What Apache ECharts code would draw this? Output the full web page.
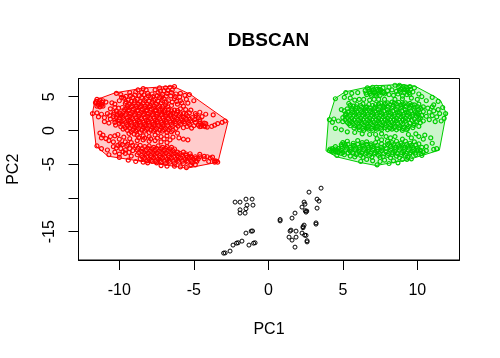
<!DOCTYPE html>
<html><head><meta charset="utf-8">
<style>html,body{margin:0;padding:0;background:#fff}#c{width:500px;height:358px}</style>
<script src="https://cdn.jsdelivr.net/npm/echarts@6/dist/echarts.min.js"></script>
</head><body><div id="c"></div>
<script>
var title = "DBSCAN";
var xName = "PC1";
var yName = "PC2";
var xTicks = [-10,-5,0,5,10];
var yTicks = [-15,-10,-5,0,5];
var yLabels = [-15,-5,0,5];
var redHull = [[-11.81,2.52],[-11.63,4.49],[-10.29,5.57],[-8.41,6.27],[-6.40,6.56],[-5.26,5.38],[-2.70,1.38],[-3.38,-4.70],[-5.46,-5.59],[-7.74,-4.84],[-10.76,-3.81],[-11.56,-2.33]];
var greenHull = [[4.48,4.74],[5.15,5.72],[7.05,6.61],[8.84,6.81],[9.85,6.56],[11.19,4.98],[11.57,4.39],[11.93,2.61],[11.86,1.53],[11.48,-2.92],[9.29,-4.4],[7.23,-5.19],[6.15,-4.74],[4.59,-3.91],[3.87,-3.02],[4.03,1.53]];
var blackPoints = [[-2.23,-10.62],[-1.90,-10.62],[-1.50,-10.18],[-1.09,-10.18],[-1.43,-11.07],[-1.03,-11.07],[-1.50,-11.6],[-1.90,-11.76],[-1.90,-12.25],[-1.56,-12.25],[3.54,-8.55],[2.73,-9.14],[3.27,-10.18],[3.40,-10.47],[2.40,-10.62],[2.46,-10.92],[2.26,-11.36],[3.27,-11.51],[2.48,-11.9],[2.58,-11.95],[2.53,-12.1],[1.79,-12.25],[1.59,-12.99],[0.79,-13.2],[0.79,-13.4],[3.20,-13.7],[3.20,-13.88],[2.40,-14.03],[2.33,-14.25],[2.33,-14.42],[1.52,-14.77],[1.46,-14.92],[1.86,-14.92],[2.26,-15.21],[2.44,-15.51],[2.53,-15.55],[1.39,-15.81],[1.86,-15.81],[1.59,-16.25],[2.60,-16.35],[2.60,-16.52],[1.79,-17.29],[-1.50,-15.21],[-1.15,-14.92],[-1.06,-14.9],[-1.77,-16.4],[-2.13,-16.7],[-2.03,-16.65],[-2.37,-16.99],[-1.30,-16.99],[-0.99,-16.7],[-0.89,-16.65],[-2.57,-17.88],[-3.0,-18.18],[-2.9,-18.15]];
var redPoints = [
[-8.4,6.2],[-7.6,6.0],[-7.3,6.3],[-6.9,6.3],[-6.6,6.4],[-6.3,6.5],[-7.0,5.9],
[-10.2,5.5],[-9.9,5.3],[-9.3,5.6],[-8.9,5.7],[-8.5,5.6],[-8.1,5.5],[-7.8,5.4],[-7.4,5.6],[-7.1,5.3],[-6.8,5.5],[-6.5,5.6],[-6.2,5.4],[-5.9,5.5],[-5.6,5.2],[-5.3,5.3],
[-11.5,4.6],[-11.3,4.5],[-11.1,4.4],[-11.6,4.1],[-11.4,4.0],[-11.2,3.9],[-11.5,3.6],[-11.3,3.5],[-11.1,3.6],[-10.9,4.2],[-10.5,4.1],[-10.3,3.9],[-10.0,4.4],[-9.7,4.8],[-9.4,4.5],[-9.1,4.9],[-8.8,4.6],[-8.5,4.9],[-8.2,4.7],[-7.9,4.9],[-7.6,4.6],[-7.3,4.9],[-7.0,4.7],[-6.7,4.4],[-6.3,4.7],[-5.9,4.4],[-5.5,4.6],[-5.0,4.4],
[-9.6,4.0],[-9.3,3.9],[-9.0,4.1],[-8.7,3.9],[-8.4,4.1],[-8.1,3.9],[-7.8,4.2],[-7.5,3.9],[-7.2,4.1],[-6.9,3.8],[-6.5,3.7],[-6.1,3.9],[-5.7,3.6],
[-9.8,3.4],[-9.5,3.3],[-9.2,3.5],[-8.9,3.3],[-8.6,3.5],[-8.3,3.3],[-8.0,3.5],[-7.7,3.3],[-7.4,3.4],[-7.1,3.2],[-6.7,3.1],[-6.3,3.0],[-5.9,3.2],[-10.6,3.2],[-10.2,2.9],
[-11.8,2.5],[-11.5,2.6],[-11.2,2.4],[-10.8,2.5],[-10.4,2.4],[-10.0,2.6],[-9.7,2.8],[-9.4,2.9],[-9.1,2.7],[-8.8,2.9],[-8.5,2.7],[-8.2,2.9],[-7.9,2.7],[-7.6,2.9],[-7.3,2.7],[-7.0,2.8],[-6.7,2.6],[-6.4,2.6],[-6.1,2.7],[-5.7,2.5],[-5.3,2.6],[-4.9,2.5],[-4.6,2.7],[-4.2,2.4],[-3.7,2.3],
[-11.4,2.0],[-11.0,1.9],[-10.6,1.7],[-10.2,1.9],[-9.9,2.2],[-9.6,2.3],[-9.3,2.1],[-9.0,2.3],[-8.7,2.1],[-8.4,2.3],[-8.1,2.1],[-7.8,2.3],[-7.5,2.1],[-7.2,2.3],[-6.9,2.1],[-6.6,2.2],[-6.3,2.0],[-6.0,2.2],[-5.7,2.0],[-5.4,2.1],[-5.1,1.9],[-4.7,1.9],
[-11.0,1.3],[-10.7,1.1],[-10.3,1.2],[-10.0,1.4],[-9.7,1.6],[-9.4,1.5],[-9.1,1.7],[-8.8,1.5],[-8.5,1.7],[-8.2,1.5],[-7.9,1.7],[-7.6,1.5],[-7.3,1.7],[-7.0,1.5],[-6.7,1.7],[-6.4,1.5],[-6.1,1.6],[-5.8,1.5],[-5.5,1.6],[-5.2,1.4],[-4.9,1.2],[-4.6,1.3],[-4.3,1.1],
[-9.8,0.9],[-9.5,0.9],[-9.2,1.1],[-8.9,0.9],[-8.6,1.1],[-8.3,0.9],[-8.0,1.1],[-7.7,0.9],[-7.4,1.1],[-7.1,0.9],[-6.8,1.1],[-6.5,0.9],[-6.2,1.0],[-5.9,0.9],[-5.6,1.0],[-5.3,0.9],[-4.7,0.8],[-4.5,0.6],[-4.3,0.7],[-4.1,0.5],[-4.6,1.0],[-4.2,1.0],[-3.8,0.6],[-3.4,1.0],[-3.1,1.2],[-2.9,1.4],[-3.6,0.8],
[-9.6,0.4],[-9.3,0.3],[-9.0,0.5],[-8.7,0.3],[-8.4,0.5],[-8.1,0.3],[-7.8,0.5],[-7.5,0.3],[-7.2,0.5],[-6.9,0.3],[-6.6,0.4],[-6.2,0.3],[-5.7,0.4],
[-9.2,-0.2],[-8.9,-0.1],[-8.6,-0.3],[-8.3,-0.1],[-8.0,-0.3],[-7.7,-0.1],[-7.4,-0.3],[-7.1,-0.1],[-6.8,-0.3],[-6.5,-0.2],[-6.1,-0.4],[-8.8,-0.7],[-8.4,-0.8],[-8.0,-0.9],[-7.6,-0.7],[-7.2,-0.9],[-6.8,-0.8],[-6.4,-1.0],[-6.0,-1.1],[-5.7,-1.3],[-5.4,-1.4],
[-11.3,-0.4],[-11.1,-0.7],[-11.2,-1.1],[-10.9,-1.2],[-10.6,-0.9],[-10.3,-0.8],[-10.1,-0.6],[-10.7,-1.5],[-10.4,-1.7],[-10.0,-1.3],[-9.7,-1.0],[-9.3,-1.2],[-9.6,-1.7],[-9.2,-1.8],[-8.8,-1.5],[-8.4,-1.4],[-8.0,-1.6],[-7.6,-1.5],[-7.2,-1.7],[-6.8,-1.8],
[-11.5,-2.3],[-11.2,-2.7],[-10.8,-2.9],[-10.4,-2.4],[-10.1,-2.2],[-9.8,-2.1],[-9.5,-2.3],[-9.9,-2.7],[-9.6,-2.9],[-9.3,-2.7],[-10.3,-3.2],[-10.7,-3.6],[-10.0,-3.5],[-9.6,-3.4],
[-8.9,-2.3],[-8.6,-2.2],[-8.3,-2.4],[-8.0,-2.3],[-7.7,-2.5],[-7.4,-2.3],[-7.1,-2.5],[-6.8,-2.4],[-6.5,-2.5],
[-9.1,-3.0],[-8.8,-2.9],[-8.5,-3.1],[-8.2,-2.9],[-7.9,-3.1],[-7.6,-2.9],[-7.3,-3.1],[-7.0,-2.9],[-6.7,-3.1],[-6.4,-3.0],[-6.1,-3.2],[-5.7,-3.2],
[-9.2,-3.8],[-8.8,-3.6],[-8.5,-3.7],[-8.2,-3.5],[-7.9,-3.7],[-7.6,-3.5],[-7.3,-3.7],[-7.0,-3.5],[-6.7,-3.7],[-6.4,-3.5],[-6.1,-3.7],[-5.8,-3.6],[-5.5,-3.7],[-5.2,-3.8],[-4.9,-3.9],[-4.6,-3.9],[-4.1,-3.9],
[-8.6,-4.2],[-8.3,-4.1],[-8.0,-4.3],[-7.7,-4.1],[-7.4,-4.3],[-7.1,-4.1],[-6.8,-4.3],[-6.5,-4.1],[-6.2,-4.3],[-5.9,-4.1],[-5.6,-4.3],[-5.3,-4.1],[-5.0,-4.3],[-4.7,-4.2],[-4.3,-4.2],[-3.9,-4.1],[-3.6,-4.5],[-3.4,-4.7],[-3.6,-4.7],[-4.0,-4.6],
[-10.0,-4.0],[-9.4,-4.4],[-8.9,-4.6],[-8.4,-4.7],[-8.1,-4.8],[-7.8,-4.6],[-7.5,-4.8],[-7.2,-4.7],[-6.9,-4.9],[-6.6,-4.7],[-6.3,-4.9],[-6.0,-4.7],[-5.7,-4.9],[-5.4,-4.7],[-5.1,-4.8],[-4.8,-4.6],[-7.2,-5.2],[-6.8,-5.3],[-6.3,-5.3],[-5.9,-5.4],[-5.5,-5.5],[-5.2,-5.1],[-4.9,-5.1]
];
var redDense = [
[-9.45,3.65],[-9.15,3.7],[-8.85,3.62],[-8.55,3.72],[-8.25,3.6],[-7.95,3.68],[-7.65,3.62],[-7.35,3.7],[-7.05,3.55],[-6.75,3.5],
[-9.65,3.1],[-9.35,3.05],[-9.05,3.12],[-8.75,3.02],[-8.45,3.1],[-8.15,3.06],[-7.85,3.12],[-7.55,3.05],[-7.25,3.0],[-6.95,3.02],[-6.5,2.9],[-6.1,2.95],
[-9.95,2.45],[-9.55,2.55],[-9.25,2.45],[-8.95,2.55],[-8.65,2.42],[-8.35,2.52],[-8.05,2.45],[-7.75,2.55],[-7.45,2.42],[-7.15,2.55],[-6.85,2.4],[-6.55,2.42],[-6.2,2.4],[-5.9,2.45],[-5.5,2.35],
[-10.0,1.85],[-9.75,1.95],[-9.45,1.85],[-9.15,1.95],[-8.85,1.82],[-8.55,1.92],[-8.25,1.85],[-7.95,1.95],[-7.65,1.82],[-7.35,1.95],[-7.05,1.82],[-6.75,1.92],[-6.45,1.8],[-6.15,1.85],[-5.85,1.78],[-5.55,1.82],[-5.25,1.7],
[-9.85,1.25],[-9.55,1.22],[-9.25,1.35],[-8.95,1.25],[-8.65,1.35],[-8.35,1.22],[-8.05,1.35],[-7.75,1.25],[-7.45,1.35],[-7.15,1.22],[-6.85,1.35],[-6.55,1.25],[-6.25,1.32],[-5.95,1.22],[-5.65,1.3],[-5.35,1.2],
[-9.45,0.65],[-9.15,0.7],[-8.85,0.62],[-8.55,0.72],[-8.25,0.62],[-7.95,0.72],[-7.65,0.62],[-7.35,0.72],[-7.05,0.62],[-6.75,0.7],[-6.45,0.62],[-6.05,0.65],
[-9.1,0.08],[-8.8,0.12],[-8.5,0.05],[-8.2,0.15],[-7.9,0.05],[-7.6,0.12],[-7.3,0.05],[-7.0,0.12],[-6.7,0.05],[-6.4,0.0],
[-8.75,-2.62],[-8.45,-2.7],[-8.1,-2.62],[-7.8,-2.72],[-7.5,-2.65],[-7.2,-2.72],[-6.9,-2.65],[-6.6,-2.75],[-6.3,-2.75],
[-8.7,-3.3],[-8.35,-3.25],[-8.05,-3.35],[-7.75,-3.25],[-7.45,-3.35],[-7.15,-3.25],[-6.85,-3.35],[-6.55,-3.25],[-6.25,-3.42],[-5.95,-3.4],[-5.55,-3.45],[-5.25,-3.45],
[-8.45,-3.95],[-8.15,-3.9],[-7.85,-3.95],[-7.55,-3.88],[-7.25,-3.98],[-6.95,-3.88],[-6.65,-3.98],[-6.35,-3.88],[-6.05,-3.98],[-5.75,-3.88],[-5.45,-4.0],[-5.15,-3.98],[-4.85,-4.1],
[-8.15,-4.5],[-7.85,-4.4],[-7.55,-4.52],[-7.25,-4.42],[-6.95,-4.55],[-6.65,-4.42],[-6.35,-4.55],[-6.05,-4.42],[-5.75,-4.55],[-5.45,-4.45],[-5.15,-4.55],[-4.85,-4.45]
];
var redExtra = [
[-9.55,4.25],[-9.2,4.3],[-8.95,4.38],[-8.6,4.28],[-8.3,4.42],[-8.0,4.3],[-7.7,4.45],[-7.4,4.32],[-7.1,4.4],[-6.85,4.15],[-6.45,4.2],[-6.15,4.3],[-5.8,4.1],[-5.4,4.05],
[-9.25,5.15],[-8.95,5.25],[-8.65,5.15],[-8.35,5.28],[-8.05,5.12],[-7.75,5.0],[-7.45,5.15],[-7.15,4.98],[-6.85,5.08],[-6.55,5.12],[-6.25,5.0],[-5.95,4.95],[-9.85,4.9],[-9.55,5.05],[-7.25,5.85],[-6.75,5.95],[-6.45,6.0],[-8.2,6.0],[-8.75,6.0],
[-11.55,4.3],[-11.35,4.25],[-11.15,4.15],[-11.4,3.75],[-11.2,3.7],
[-10.3,3.4],[-10.05,3.3],[-10.35,2.7],[-10.1,2.25],[-10.4,2.05],[-10.65,2.2],[-10.3,1.55],[-10.0,1.05],[-10.25,0.8],[-9.9,0.55],[-9.75,0.2],[-9.45,0.0],[-9.35,-0.45],[-9.0,-0.55],
[-8.7,-1.05],[-8.3,-1.15],[-7.9,-1.25],[-7.45,-1.15],[-7.0,-1.25],[-6.6,-1.4],[-9.95,-2.0],[-10.2,-2.6],[-9.75,-3.15],[-9.35,-3.25],[-9.45,-2.05],[-9.1,-2.2],
[-5.55,3.1],[-5.2,3.0],[-4.85,2.2],[-4.45,2.05],[-4.95,1.6],[-4.6,1.6],[-4.45,0.85],[-4.25,0.55],[-4.6,0.55],[-5.0,0.7],[-5.45,0.6],[-5.15,0.35],
[-4.6,-3.55],[-4.3,-3.85],[-3.75,-3.95],[-3.5,-4.55]
];
var greenPoints = [
[7.0,6.4],[7.3,6.1],[7.7,6.3],[8.1,6.4],[8.5,6.7],[8.8,6.7],[9.1,6.5],[9.5,6.5],[9.8,6.3],[6.5,5.9],[6.8,5.8],[7.1,5.7],[7.4,5.9],[7.7,5.7],[8.0,5.9],[8.3,6.0],[8.6,5.8],[8.9,6.1],[9.3,5.9],[9.7,5.7],[6.0,5.6],[5.6,5.5],[5.2,5.6],[6.6,5.3],[6.9,5.2],[7.2,5.4],[7.5,5.2],[7.8,5.4],[8.1,5.3],[8.4,5.2],[8.7,5.4],[9.0,5.1],[9.3,5.3],[10.1,5.4],[10.3,5.0],[5.1,4.9],[5.5,4.8],[4.5,4.7],[5.8,4.5],[6.1,4.6],[6.4,4.6],[6.8,4.5],[7.1,4.6],[7.4,4.6],[7.8,4.6],[8.5,4.6],[9.0,4.7],[9.6,4.8],[10.0,4.6],[11.0,4.9],[10.6,4.4],[11.4,4.3],[11.1,3.8],
[5.4,4.0],[5.7,3.6],[6.2,3.7],[6.6,3.5],[7.0,3.7],[7.4,3.9],[7.7,3.7],[8.0,4.1],[8.3,4.2],[8.6,3.9],[8.9,3.8],[9.2,4.1],[9.5,4.0],[9.8,3.8],[10.1,3.9],[10.4,3.5],[10.7,3.3],[11.0,3.5],[11.4,3.1],[11.7,3.4],[4.9,3.1],[5.1,2.9],[5.3,3.2],[5.6,3.0],[5.9,3.2],[6.2,3.0],[6.5,3.2],[6.8,3.0],[7.1,3.2],[7.4,3.1],[7.7,3.3],[8.0,3.1],[8.3,3.3],[8.6,3.1],[8.9,3.3],[9.2,3.1],[9.5,3.3],[9.8,3.0],[10.1,3.1],[10.4,2.8],[10.8,2.7],[11.1,2.9],[11.5,2.5],[11.9,2.5],
[5.2,2.5],[5.5,2.4],[5.8,2.6],[6.1,2.4],[6.4,2.6],[6.7,2.4],[7.0,2.6],[7.3,2.4],[7.6,2.6],[7.9,2.4],[8.2,2.6],[8.5,2.4],[8.8,2.6],[9.1,2.4],[9.4,2.6],[9.7,2.4],[10.0,2.5],[10.3,2.2],[10.6,2.1],[11.0,2.2],[11.3,2.0],[11.8,1.8],
[4.1,1.6],[4.4,1.7],[4.7,1.4],[4.3,1.2],[5.0,1.9],[5.3,1.9],[5.6,1.8],[5.9,2.0],[6.2,1.8],[6.5,2.0],[6.8,1.8],[7.1,2.0],[7.4,1.8],[7.7,2.0],[8.0,1.8],[8.3,2.0],[8.6,1.8],[8.9,2.0],[9.2,1.8],[9.5,2.0],[9.8,1.7],[10.1,1.6],[10.4,1.4],[10.8,1.6],[11.2,1.3],[11.6,1.4],
[5.0,1.3],[5.3,1.2],[5.6,1.3],[5.9,1.2],[6.2,1.4],[6.5,1.2],[6.8,1.4],[7.1,1.2],[7.4,1.4],[7.7,1.2],[8.0,1.4],[8.3,1.2],[8.6,1.4],[8.9,1.2],[9.2,1.4],[9.5,1.1],[9.8,1.0],[5.5,0.7],[5.8,0.7],[6.1,0.6],[6.4,0.8],[6.7,0.6],[7.0,0.8],[7.3,0.6],[7.6,0.8],[7.9,0.7],[8.2,0.8],[8.5,0.6],[8.8,0.7],[9.1,0.5],[9.4,0.6],[9.7,0.4],[10.1,0.6],
[6.1,0.1],[6.4,0.0],[6.7,0.2],[7.0,0.0],[7.3,0.2],[7.6,0.1],[8.0,0.1],[8.3,0.2],[8.6,0.1],[9.0,0.0],[9.3,0.1],[4.9,0.1],[4.5,0.3],[5.3,-0.2],[5.8,-0.3],[6.3,-0.5],[6.8,-0.6],[7.2,-0.6],[7.6,-0.5],[7.3,-1.2],[7.6,-1.4],[7.9,-0.9],[8.2,-1.1],[8.5,-0.9],[8.0,-1.6],
[9.4,-0.6],[9.9,-0.5],[10.1,-0.9],[10.5,-0.7],[9.6,-1.1],[9.0,-1.3],[10.4,-1.3],[10.9,-1.1],
[5.0,-1.8],[5.3,-1.6],[5.7,-1.9],[6.0,-1.5],[6.3,-1.8],[6.6,-1.7],[6.9,-2.0],[7.2,-1.8],[7.6,-2.0],[8.0,-2.1],[8.3,-1.8],[8.6,-1.6],[8.9,-1.9],[9.2,-1.6],[9.5,-1.9],[9.8,-1.7],[10.1,-2.0],
[4.1,-3.0],[4.3,-2.7],[4.5,-3.1],[4.7,-2.7],[4.5,-2.4],[4.9,-2.4],[5.2,-2.3],[5.5,-2.5],[5.8,-2.3],[6.1,-2.5],[6.4,-2.3],[6.7,-2.5],[7.0,-2.4],[7.3,-2.6],[7.6,-2.5],[7.9,-2.6],[8.2,-2.4],[8.5,-2.5],[8.8,-2.3],[9.1,-2.5],[9.4,-2.3],[9.7,-2.5],[10.0,-2.6],[10.3,-2.5],[10.6,-2.4],[11.1,-2.8],[11.3,-2.7],[11.0,-1.9],
[4.9,-3.0],[5.2,-2.9],[5.5,-3.1],[5.8,-2.9],[6.1,-3.1],[6.4,-2.9],[6.7,-3.1],[7.0,-2.9],[7.3,-3.1],[7.6,-3.0],[7.9,-3.2],[8.2,-2.9],[8.5,-3.1],[8.8,-2.9],[9.1,-3.1],[9.4,-2.9],[9.7,-3.1],[10.0,-3.0],[10.4,-3.2],
[4.6,-3.7],[5.1,-3.6],[5.5,-3.8],[5.9,-3.6],[6.2,-3.7],[6.5,-3.5],[6.8,-3.7],[7.1,-3.5],[7.4,-3.7],[7.7,-3.9],[8.0,-3.7],[8.3,-3.6],[8.6,-3.8],[8.9,-3.6],[9.2,-3.7],[9.5,-3.5],[9.9,-3.6],[10.3,-3.7],
[6.2,-4.6],[6.6,-4.3],[7.0,-4.5],[7.3,-5.1],[7.5,-4.6],[7.8,-4.4],[8.1,-4.9],[8.4,-4.5],[8.7,-4.8],[9.0,-4.3],[9.3,-4.3],[9.6,-4.2]
];
var greenDense = [
[6.55,5.55],[6.85,5.5],[7.15,5.6],[7.45,5.55],[7.75,5.6],[8.85,5.7],[9.15,5.65],[9.45,5.6],[6.75,6.1],[7.05,6.05],[7.5,6.1],[9.0,6.3],[9.35,6.2],
[5.6,3.3],[5.9,3.5],[6.25,3.4],[6.55,3.42],[6.85,3.35],[7.15,3.45],[7.45,3.45],[7.75,3.5],[8.05,3.45],[8.35,3.55],[8.65,3.45],[8.95,3.55],[9.25,3.5],[9.55,3.6],[9.85,3.4],
[5.35,2.75],[5.65,2.7],[5.95,2.8],[6.25,2.72],[6.55,2.85],[6.85,2.72],[7.15,2.85],[7.45,2.72],[7.75,2.85],[8.05,2.72],[8.35,2.85],[8.65,2.72],[8.95,2.85],[9.25,2.72],[9.55,2.85],[9.85,2.7],[10.15,2.75],
[5.15,2.2],[5.45,2.12],[5.75,2.22],[6.05,2.12],[6.35,2.25],[6.65,2.12],[6.95,2.25],[7.25,2.12],[7.55,2.25],[7.85,2.12],[8.15,2.25],[8.45,2.12],[8.75,2.25],[9.05,2.12],[9.35,2.25],[9.65,2.12],[9.95,2.1],
[5.15,1.6],[5.45,1.5],[5.75,1.58],[6.05,1.5],[6.35,1.62],[6.65,1.52],[6.95,1.62],[7.25,1.52],[7.55,1.62],[7.85,1.52],[8.15,1.62],[8.45,1.52],[8.75,1.62],[9.05,1.52],[9.35,1.62],[9.65,1.5],
[5.4,0.98],[5.7,1.0],[6.0,0.92],[6.3,1.05],[6.6,0.92],[6.9,1.05],[7.2,0.92],[7.5,1.05],[7.8,0.92],[8.1,1.05],[8.4,0.92],[8.7,1.02],[9.0,0.92],[9.3,0.85],
[5.75,0.38],[6.05,0.4],[6.35,0.32],[6.65,0.42],[6.95,0.32],[7.25,0.42],[7.55,0.35],[7.85,0.42],[8.15,0.35],[8.45,0.4],[8.75,0.35],[9.05,0.28],[9.35,0.32],
[4.6,-2.9],[4.95,-2.68],[5.25,-2.62],[5.55,-2.78],[5.85,-2.62],[6.15,-2.78],[6.45,-2.62],[6.75,-2.78],[7.05,-2.68],[7.35,-2.82],[7.65,-2.75],[8.25,-2.68],[8.55,-2.78],[8.85,-2.62],[9.15,-2.78],[9.45,-2.62],[9.75,-2.78],[10.05,-2.82],
[5.0,-3.3],[5.35,-3.35],[5.65,-3.25],[5.95,-3.38],[6.25,-3.32],[6.55,-3.25],[6.85,-3.38],[7.15,-3.28],[7.45,-3.38],[7.75,-3.45],[8.05,-3.42],[8.35,-3.32],[8.65,-3.42],[8.95,-3.3],[9.25,-3.4],[9.55,-3.28],[9.85,-3.35],
[5.35,-2.05],[5.7,-2.2],[6.0,-2.05],[6.3,-2.15],[6.6,-2.05],[6.9,-2.25],[7.3,-2.2],[8.4,-2.1],[8.7,-2.05],[9.0,-2.15],[9.3,-2.05],[9.6,-2.2],[9.9,-2.15],
[5.8,-3.92],[6.35,-4.0],[6.95,-3.95],[7.5,-4.0],[8.2,-4.05],[8.8,-4.05],[9.35,-3.95]
];
var greenExtra = [
[6.65,6.3],[7.25,6.4],[7.55,5.95],[6.95,5.95],[7.2,5.2],[8.75,6.4],[9.25,6.4],[9.55,6.1],[8.8,5.95],[9.15,6.05],[9.5,5.35],
[5.5,3.75],[5.95,3.85],[6.35,3.95],[6.75,3.85],[7.2,3.85],[7.55,4.05],[7.85,3.95],[8.15,3.85],[8.45,4.05],[8.75,4.15],[9.05,3.95],[9.35,3.85],[9.65,3.8],[10.0,3.55],
[10.25,3.25],[10.05,2.3],[10.2,1.85],[9.95,1.3],[10.2,1.15],[9.75,0.75],
[4.15,-2.75],[4.35,-3.2],[4.65,-3.25],[4.25,-3.05],[4.5,-2.75],[4.75,-3.05],[4.35,-2.9],[4.9,-3.4],
[10.2,-2.95],[10.25,-3.4],[10.6,-3.0],[4.9,-2.1],[5.1,-2.0],[8.1,-1.9],[7.8,-2.3]
];
var red="#FF0000", green="#00CD00", black="#000000";
function hull(pts,fill,edge){
  return {type:'custom',silent:true,z:1,
    renderItem:function(p,api){
      if(p.dataIndex!==0) return;
      var coords=pts.map(function(d){return api.coord(d);});
      return {type:'polygon',shape:{points:coords},style:{fill:fill,stroke:edge,lineWidth:1}};
    },
    encode:{x:0,y:1},data:pts,animation:false};
}
function dots(pts,col,w){
  return {type:'scatter',data:pts,symbol:'circle',symbolSize:4,z:3,animation:false,silent:true,large:false,
    itemStyle:{color:'rgba(0,0,0,0)',borderColor:col,borderWidth:w,opacity:1}};
}
var font="Liberation Sans";
var axisBase={axisLine:{show:true,onZero:false,lineStyle:{color:'#000',width:1}},
  axisTick:{show:true,length:10,inside:false,lineStyle:{color:'#000',width:1}},
  splitLine:{show:false}};
var chart=echarts.init(document.getElementById('c'),null,{renderer:'canvas'});
chart.setOption({
  animation:false,backgroundColor:'#fff',
  title:{text:title,left:263.5,top:26,textAlign:'center',textStyle:{fontFamily:font,fontSize:19,fontWeight:'bold',color:'#000'}},
  grid:{left:78.5,top:78.5,width:381,height:181.5,show:true,borderColor:'#000',borderWidth:1,backgroundColor:'transparent',outerBoundsMode:'none'},
  xAxis:Object.assign({},axisBase,{type:'value',min:-12.74,max:12.83,
    name:xName,nameLocation:'middle',nameGap:62,nameTextStyle:{fontFamily:font,fontSize:16,color:'#000'},
    axisTick:Object.assign({},axisBase.axisTick,{customValues:xTicks}),
    axisLabel:{customValues:xTicks,margin:23,fontFamily:font,fontSize:16,color:'#000',hideOverlap:false,showMinLabel:true,showMaxLabel:true}}),
  yAxis:Object.assign({},axisBase,{type:'value',min:-19.2,max:7.7,
    name:yName,nameLocation:'middle',nameGap:57,nameRotate:90,nameTextStyle:{fontFamily:font,fontSize:16,color:'#000'},
    axisTick:Object.assign({},axisBase.axisTick,{customValues:yTicks}),
    axisLabel:{customValues:yLabels,rotate:90,margin:21,fontFamily:font,fontSize:16,color:'#000',hideOverlap:false}}),
  series:[hull(redHull,'#FFCCCC',red),hull(greenHull,'#CCF5CC',green),dots(redPoints,red,1.2),dots(redDense,red,1.2),dots(redExtra,red,1.2),dots(greenPoints,green,1.2),dots(greenDense,green,1.2),dots(greenExtra,green,1.2),dots(blackPoints,black,1)]
});
</script></body></html>
